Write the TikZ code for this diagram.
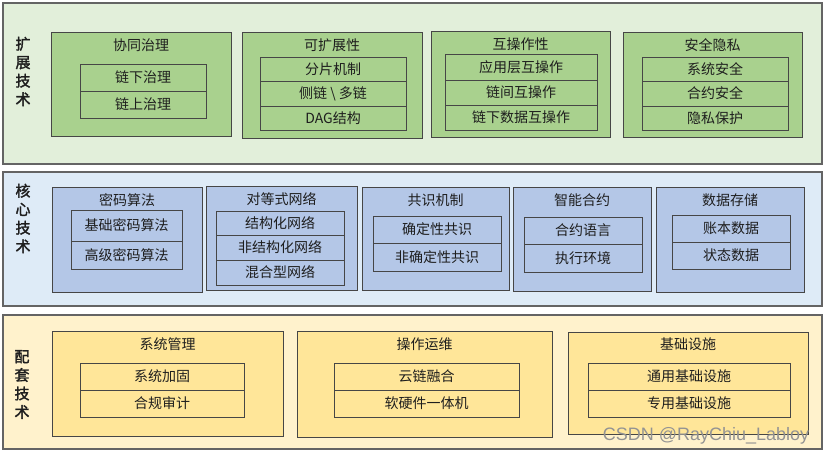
\documentclass[tikz,border=0pt]{standalone}
\usepackage{fontspec}
\setmainfont{Noto Sans CJK SC}
\newfontfamily\cjkbold[FakeBold=2]{Noto Sans CJK SC}
\newfontfamily\wmfont{Liberation Sans}
\usetikzlibrary{fit}
\definecolor{gband}{RGB}{226,239,218}
\definecolor{gbox}{RGB}{169,209,142}
\definecolor{bband}{RGB}{222,235,247}
\definecolor{bbox}{RGB}{180,199,231}
\definecolor{yband}{RGB}{255,242,204}
\definecolor{ybox}{RGB}{255,230,153}
\definecolor{edge}{RGB}{70,70,70}
\definecolor{bandedge}{RGB}{100,100,100}
\definecolor{txt}{RGB}{30,30,30}
\tikzset{
  band/.style={draw=bandedge, line width=1.2pt, inner sep=0pt, outer sep=0pt},
  grp/.style={draw=edge, line width=1pt, inner sep=0pt, outer sep=0pt},
  row/.style={draw=edge, line width=1pt, inner sep=0pt, outer sep=0pt, text=txt,
    font=\fontsize{14}{16}\selectfont},
  ttl/.style={text=txt, font=\fontsize{14}{16}\selectfont, inner sep=0pt},
  side/.style={text=txt, font=\cjkbold\fontsize{15}{18.5}\selectfont, align=center, inner sep=0pt},
}
\newcommand\bx[6]{\node[#1, fit={(#3,#4) (#5,#6)}] (#2) {};}
\newcommand\rw[6]{\node[row, minimum width={(#4-#2)*1pt}, minimum height={(#5-#3)*1pt}] (#1) at ({(#2+#4)/2},{(#3+#5)/2}) {#6};}
\begin{document}
\begin{tikzpicture}[x=1pt,y=-1pt]
\useasboundingbox (0,0) rectangle (826,455);
\fill[white] (0,0) rectangle (826,455);
% bands
\bx{band,fill=gband}{tb}{3}{3}{822}{164}
\bx{band,fill=bband}{mb}{3}{172}{822}{306}
\bx{band,fill=yband}{bb}{3}{315}{822}{449}
\node[side] (tl) at (23,71.5) {扩\\展\\技\\术};
\node[side] (ml) at (23,218.5) {核\\心\\技\\术};
\node[side] (bl) at (22,384.5) {配\\套\\技\\术};
% top groups
\bx{grp,fill=gbox}{a1}{51}{32}{231}{136}
\node[ttl] (a1t) at (141,45) {协同治理};
\rw{a1r1}{80}{64}{206}{91}{链下治理}
\rw{a1r2}{80}{91}{206}{118}{链上治理}
\bx{grp,fill=gbox}{a2}{242}{32}{422}{138}
\node[ttl] (a2t) at (332,45) {可扩展性};
\rw{a2r1}{260}{57}{406}{81}{分片机制}
\rw{a2r2}{260}{81}{406}{106}{侧链 \textbackslash{} 多链}
\rw{a2r3}{260}{106}{406}{130}{DAG结构}
\bx{grp,fill=gbox}{a3}{431}{31}{610}{137}
\node[ttl] (a3t) at (520.5,44) {互操作性};
\rw{a3r1}{445}{54}{597}{80}{应用层互操作}
\rw{a3r2}{445}{80}{597}{105}{链间互操作}
\rw{a3r3}{445}{105}{597}{130}{链下数据互操作}
\bx{grp,fill=gbox}{a4}{623}{32}{802}{137}
\node[ttl] (a4t) at (712.5,45) {安全隐私};
\rw{a4r1}{642}{57}{788}{81}{系统安全}
\rw{a4r2}{642}{81}{788}{106}{合约安全}
\rw{a4r3}{642}{106}{788}{130}{隐私保护}
% middle groups
\bx{grp,fill=bbox}{b1}{52}{187}{202}{292}
\node[ttl] (b1t) at (127,200) {密码算法};
\rw{b1r1}{71}{210}{182}{241}{基础密码算法}
\rw{b1r2}{71}{241}{182}{269}{高级密码算法}
\bx{grp,fill=bbox}{b2}{206}{186}{357}{290}
\node[ttl] (b2t) at (281.5,199) {对等式网络};
\rw{b2r1}{216}{211}{344}{235}{结构化网络}
\rw{b2r2}{216}{235}{344}{260}{非结构化网络}
\rw{b2r3}{216}{260}{344}{285}{混合型网络}
\bx{grp,fill=bbox}{b3}{362}{187}{509}{290}
\node[ttl] (b3t) at (435.5,200) {共识机制};
\rw{b3r1}{373}{216}{501}{243}{确定性共识}
\rw{b3r2}{373}{243}{501}{271}{非确定性共识}
\bx{grp,fill=bbox}{b4}{513}{187}{651}{291}
\node[ttl] (b4t) at (582,200) {智能合约};
\rw{b4r1}{524}{217}{642}{244}{合约语言}
\rw{b4r2}{524}{244}{642}{272}{执行环境}
\bx{grp,fill=bbox}{b5}{656}{187}{804}{292}
\node[ttl] (b5t) at (730,200) {数据存储};
\rw{b5r1}{672}{215}{790}{242}{账本数据}
\rw{b5r2}{672}{242}{790}{269}{状态数据}
% bottom groups
\bx{grp,fill=ybox}{c1}{52}{331}{283}{436}
\node[ttl] (c1t) at (167.5,344) {系统管理};
\rw{c1r1}{80}{363}{244}{390}{系统加固}
\rw{c1r2}{80}{390}{244}{417}{合规审计}
\bx{grp,fill=ybox}{c2}{297}{331}{552}{437}
\node[ttl] (c2t) at (424.5,344) {操作运维};
\rw{c2r1}{334}{363}{519}{390}{云链融合}
\rw{c2r2}{334}{390}{519}{417}{软硬件一体机}
\bx{grp,fill=ybox}{c3}{568}{332}{808}{434}
\node[ttl] (c3t) at (688,344) {基础设施};
\rw{c3r1}{588}{363}{790}{390}{通用基础设施}
\rw{c3r2}{588}{390}{790}{417}{专用基础设施}
% watermark text
\node[text=gray!85, font=\wmfont\fontsize{18}{20}\selectfont, inner sep=0pt] (wm) at (706,436) {CSDN @RayChiu\_Labloy};
\end{tikzpicture}
\end{document}
